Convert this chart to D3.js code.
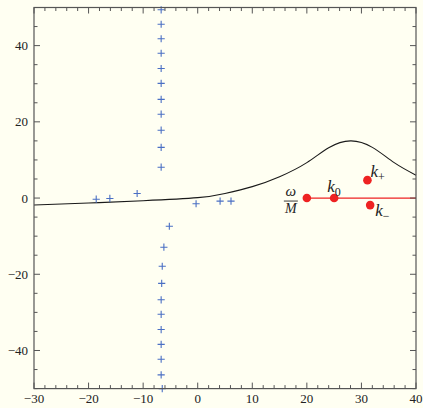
<!DOCTYPE html>
<html><head><meta charset="utf-8">
<script src="https://cdn.jsdelivr.net/npm/d3@7/dist/d3.min.js"></script>
<style>
html,body{margin:0;padding:0;background:#fffff2;}
svg{display:block;}
text{font-family:"Liberation Serif","Times New Roman",serif;}
</style></head>
<body>
<script>
// ---- data ----
const xTicks = [-30,-20,-10,0,10,20,30,40];
const yTicks = [-40,-20,0,20,40];
// blue crosses (x, y)
const crossX = [-6.7,-6.7,-6.7,-6.7,-6.7,-6.7,-6.7,-6.7,-6.7,-6.7,-6.7,
                -18.6,-16.1,-11.1,-0.3,4.1,6.1,
                -5.2,-6.2,-6.5,-6.6,-6.7,-6.7,-6.7,-6.7,-6.7,-6.7,-6.5];
const crossY = [49.4,45.6,41.8,38.0,34.0,30.1,25.9,22.0,17.8,13.3,8.1,
                -0.3,-0.1,1.2,-1.5,-0.8,-0.8,
                -7.4,-12.9,-17.9,-22.4,-26.7,-30.5,-34.5,-38.4,-42.3,-46.4,-50.0];
// black curve samples
const curveX = [-30,-20,-10,0,5,10,15,20,24,28,32,36,40];
const curveY = [-1.84,-1.3,-0.7,0.1,1.2,3.0,5.6,9.3,13.2,15.0,13.3,9.3,6.0];
// red points
const redNames = ["omegaM","k0","kplus","kminus"];
const redX = [20,25,31.1,31.6];
const redY = [0,0,4.7,-1.85];
const redLineX = [20,40];

// ---- layout ----
const W=423,H=408;
const svg=d3.select("body").append("svg").attr("width",W).attr("height",H);
svg.append("rect").attr("width",W).attr("height",H).attr("fill","#fffff2");
const x=d3.scaleLinear().domain([-30,40]).range([34,416]);
const y=d3.scaleLinear().domain([-50,50]).range([388.6,7.5]);
const frame="#555";

const g=svg.append("g");
// curve
const line=d3.line().x((d,i)=>x(curveX[i])).y((d,i)=>y(curveY[i])).curve(d3.curveNatural);
g.append("path").datum(curveX).attr("d",line).attr("fill","none").attr("stroke","#1a1a1a").attr("stroke-width",1.1);
// red line
g.append("line").attr("x1",x(redLineX[0])).attr("x2",x(redLineX[1])).attr("y1",y(0)).attr("y2",y(0))
  .attr("stroke","#ee2222").attr("stroke-width",1.3);
// crosses
const cs=3.6;
crossX.forEach((cx,i)=>{
  const px=x(cx),py=y(crossY[i]);
  g.append("path").attr("d",`M${px-cs},${py}H${px+cs}M${px},${py-cs}V${py+cs}`)
    .attr("stroke","#4a6fc4").attr("stroke-width",1.1).attr("fill","none");
});
// red dots
g.selectAll("circle.red").data(redX).enter().append("circle")
  .attr("cx",d=>x(d)).attr("cy",(d,i)=>y(redY[i])).attr("r",4.3).attr("fill","#ee2222");

// labels
function kLabel(px,py,sub){
  const t=svg.append("text").attr("x",px).attr("y",py).attr("fill","#222").style("font-size","17px");
  t.append("tspan").text("k").style("font-style","italic");
  t.append("tspan").text(sub).attr("dy",4).style("font-size","12px");
}
kLabel(x(redX[1])-7,y(0)-6,"0");
kLabel(x(redX[2])+3,y(redY[2])-3,"+");
kLabel(x(redX[3])+5,y(redY[3])+11,"−");
// omega / M fraction
const fx=x(redX[0])-16, fy=y(0);
svg.append("text").attr("x",fx).attr("y",fy-2).attr("text-anchor","middle").style("font-style","italic").style("font-size","15px").attr("fill","#222").text("ω");
svg.append("line").attr("x1",fx-7).attr("x2",fx+7).attr("y1",fy+3).attr("y2",fy+3).attr("stroke","#222").attr("stroke-width",0.9);
svg.append("text").attr("x",fx).attr("y",fy+15).attr("text-anchor","middle").style("font-style","italic").style("font-size","14px").attr("fill","#222").text("M");

// frame and ticks
const ax=svg.append("g");
const fmt=d=>d<0?"−"+Math.abs(d):""+d;
const xMinor=d3.range(-30,40.01,2), yMinor=d3.range(-50,50.01,5);
const tk=(d,maj)=>maj?6:3.5;
xMinor.forEach(v=>{
  const maj=xTicks.includes(v), L=tk(v,maj);
  ax.append("line").attr("x1",x(v)).attr("x2",x(v)).attr("y1",y(-50)).attr("y2",y(-50)-L).attr("stroke",frame);
  ax.append("line").attr("x1",x(v)).attr("x2",x(v)).attr("y1",y(50)).attr("y2",y(50)+L).attr("stroke",frame);
});
yMinor.forEach(v=>{
  const maj=yTicks.includes(v)||v===0, L=tk(v,maj);
  ax.append("line").attr("x1",x(-30)).attr("x2",x(-30)+L).attr("y1",y(v)).attr("y2",y(v)).attr("stroke",frame);
  ax.append("line").attr("x1",x(40)).attr("x2",x(40)-L).attr("y1",y(v)).attr("y2",y(v)).attr("stroke",frame);
});
ax.append("rect").attr("x",x(-30)).attr("y",y(50)).attr("width",x(40)-x(-30)).attr("height",y(-50)-y(50))
  .attr("fill","none").attr("stroke",frame).attr("stroke-width",1.2);
xTicks.forEach(v=>{
  ax.append("text").attr("x",x(v)).attr("y",403).attr("text-anchor","middle").style("font-size","13px").attr("fill","#222").text(fmt(v));
});
yTicks.forEach(v=>{
  ax.append("text").attr("x",28).attr("y",y(v)+4.5).attr("text-anchor","end").style("font-size","13px").attr("fill","#222").text(fmt(v));
});
</script>
</body></html>
